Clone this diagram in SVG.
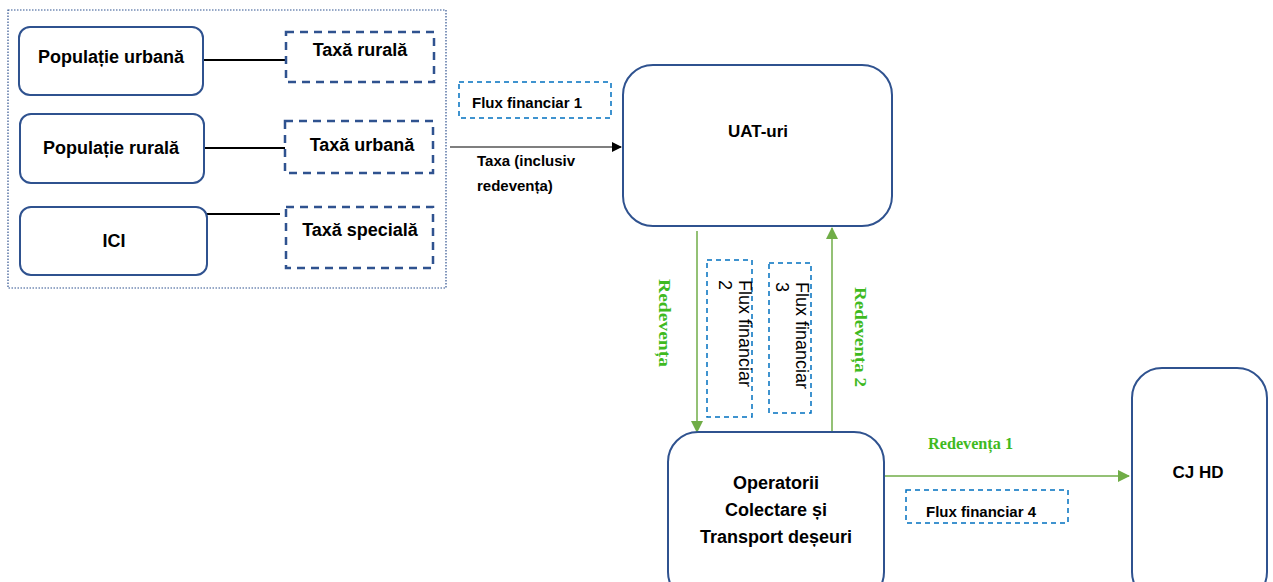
<svg xmlns="http://www.w3.org/2000/svg" width="1273" height="582" viewBox="0 0 1273 582">
<style>
.bg{fill:#ffffff}
.node{fill:#ffffff;stroke:#2f528f;stroke-width:2}
.tax{fill:#ffffff;stroke:#2f528f;stroke-width:2.5;stroke-dasharray:8 6}
.flux{fill:#ffffff;stroke:#0070c0;stroke-width:1.5;stroke-dasharray:5 4}
.outer{fill:none;stroke:#2f528f;stroke-width:1.2;stroke-dasharray:1.5 1.5}
.t{font-family:"Liberation Sans",Arial,sans-serif;font-weight:bold;fill:#000}
.r{font-family:"Liberation Sans",Arial,sans-serif;fill:#000}
.g{font-family:"Liberation Serif","Times New Roman",serif;font-weight:bold;fill:#3fba1f}
.blk{stroke:#000;stroke-width:2;fill:none}
.gl{stroke:#70ad47;stroke-width:1.5;fill:none}
</style>
<defs>
<marker id="ab" markerWidth="10" markerHeight="10" refX="9" refY="5" orient="auto" markerUnits="userSpaceOnUse"><path d="M0,0 L10,5 L0,10 Z" fill="#000"/></marker>
<marker id="ag" markerWidth="12" markerHeight="12" refX="11" refY="6" orient="auto" markerUnits="userSpaceOnUse"><path d="M0,0 L12,6 L0,12 Z" fill="#70ad47"/></marker>
</defs>
<rect class="bg" x="0" y="0" width="1273" height="582"/>
<rect class="outer" x="8" y="10" width="438" height="278"/>

<g id="connectors">
<line class="blk" x1="203" y1="60" x2="286" y2="60"/>
<line class="blk" x1="204" y1="148" x2="285" y2="148"/>
<line class="blk" x1="202" y1="214" x2="280" y2="214"/>
<line stroke="#000" stroke-width="1.2" x1="450" y1="147" x2="621" y2="147" marker-end="url(#ab)"/>
<line class="gl" x1="697" y1="231" x2="697" y2="432" marker-end="url(#ag)"/>
<line class="gl" x1="832" y1="432" x2="832" y2="228" marker-end="url(#ag)"/>
<line class="gl" x1="882" y1="476" x2="1129" y2="476" marker-end="url(#ag)"/>
<text class="t" x="477" y="166" font-size="15">Taxa (inclusiv</text>
<text class="t" x="477" y="191" font-size="15">redevența)</text>
<text class="g" font-size="16" textLength="88" lengthAdjust="spacingAndGlyphs" transform="translate(659,279) rotate(90)">Redevența</text>
<text class="g" font-size="16" textLength="100" lengthAdjust="spacingAndGlyphs" transform="translate(855,287) rotate(90)">Redevența 2</text>
<text class="g" x="928" y="449" font-size="16" textLength="85" lengthAdjust="spacingAndGlyphs">Redevența 1</text>
</g>

<g id="pop-urbana">
<rect class="node" x="19" y="27" width="184" height="68" rx="11"/>
<text class="t" x="111" y="63" font-size="18" text-anchor="middle">Populație urbană</text>
</g>
<g id="pop-rurala">
<rect class="node" x="20" y="114" width="184" height="69" rx="11"/>
<text class="t" x="111" y="154" font-size="18" text-anchor="middle">Populație rurală</text>
</g>
<g id="ici">
<rect class="node" x="20" y="207" width="187" height="68" rx="11"/>
<text class="t" x="114" y="247" font-size="18" text-anchor="middle">ICI</text>
</g>
<g id="taxa-rurala">
<rect class="tax" x="286" y="32" width="148" height="50"/>
<text class="t" x="360" y="56" font-size="18" text-anchor="middle">Taxă rurală</text>
</g>
<g id="taxa-urbana">
<rect class="tax" x="285" y="121" width="148" height="52"/>
<text class="t" x="362" y="151" font-size="18" text-anchor="middle">Taxă urbană</text>
</g>
<g id="taxa-speciala">
<rect class="tax" x="286" y="207" width="147" height="61"/>
<text class="t" x="360" y="236" font-size="18" text-anchor="middle">Taxă specială</text>
</g>

<g id="flux1">
<rect class="flux" x="459" y="82" width="152" height="36"/>
<text class="t" x="472" y="108" font-size="15">Flux financiar 1</text>
</g>
<g id="uat">
<rect class="node" x="623" y="65" width="269" height="161" rx="30"/>
<text class="t" x="758" y="137" font-size="17" text-anchor="middle">UAT-uri</text>
</g>
<g id="flux2">
<rect class="flux" x="707" y="260" width="45" height="157"/>
<text class="r" font-size="18" transform="translate(739,280) rotate(90)">Flux financiar</text>
<text class="r" font-size="18" transform="translate(719,280) rotate(90)">2</text>
</g>
<g id="flux3">
<rect class="flux" x="769" y="263" width="42" height="150"/>
<text class="r" font-size="18" transform="translate(796,282) rotate(90)">Flux financiar</text>
<text class="r" font-size="18" transform="translate(776,282) rotate(90)">3</text>
</g>
<g id="operatori">
<rect class="node" x="668" y="432" width="216" height="170" rx="30"/>
<text class="t" x="776" y="489" font-size="18" text-anchor="middle">Operatorii</text>
<text class="t" x="776" y="516" font-size="18" text-anchor="middle">Colectare și</text>
<text class="t" x="776" y="543" font-size="18" text-anchor="middle">Transport deșeuri</text>
</g>
<g id="flux4">
<rect class="flux" x="906" y="490" width="162" height="33"/>
<text class="t" x="926" y="517" font-size="15">Flux financiar 4</text>
</g>
<g id="cjhd">
<rect class="node" x="1132" y="368" width="135" height="234" rx="30"/>
<text class="t" x="1198" y="478" font-size="17" text-anchor="middle">CJ HD</text>
</g>
</svg>
